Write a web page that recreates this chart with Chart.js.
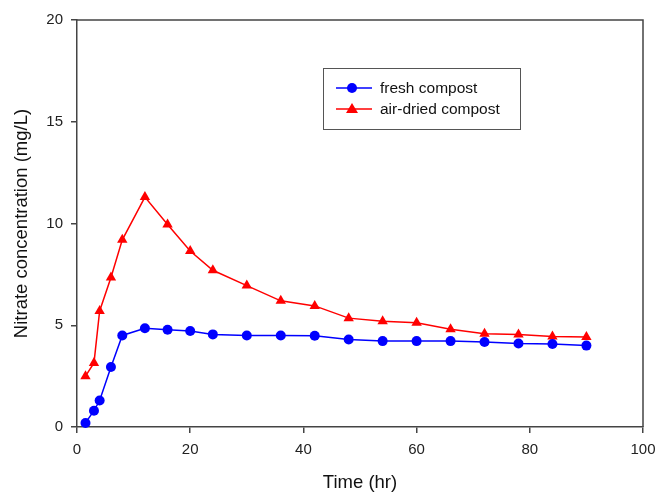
<!DOCTYPE html>
<html>
<head>
<meta charset="utf-8">
<script src="https://cdn.jsdelivr.net/npm/chart.js@4.4.1/dist/chart.umd.min.js"></script>
<style>
  html, body { margin: 0; padding: 0; background: #fff; }
  #wrap { width: 658px; height: 492px; }
</style>
</head>
<body>
<div id="wrap"><canvas id="chart" width="658" height="492"></canvas></div>
<script>
// time (hr)
const hours = [1.5, 3, 4, 6, 8, 12, 16, 20, 24, 30, 36, 42, 48, 54, 60, 66, 72, 78, 84, 90];
const freshCompost = [0.2, 0.8, 1.3, 2.95, 4.5, 4.85, 4.78, 4.72, 4.55, 4.5, 4.5, 4.48, 4.3, 4.22, 4.22, 4.22, 4.18, 4.1, 4.08, 4.0];
const airDriedCompost = [2.5, 3.15, 5.7, 7.35, 9.2, 11.3, 9.95, 8.65, 7.7, 6.95, 6.2, 5.95, 5.35, 5.2, 5.12, 4.8, 4.58, 4.55, 4.45, 4.42];
const xTicks = [0, 20, 40, 60, 80, 100];
const yTicks = [0, 5, 10, 15, 20];

const axisColor = '#444';
const font = "Arial, 'Liberation Sans', sans-serif";

function toPoints(ys) {
    return hours.map((h, i) => ({ x: h, y: ys[i] }));
}

// frame round the plot + legend box inside it
const framePlugin = {
    id: 'frame',
    afterDraw(chart) {
        const { ctx, chartArea: a } = chart;
        ctx.save();
        ctx.strokeStyle = axisColor;
        ctx.lineWidth = 1.5;
        ctx.beginPath();
        ctx.moveTo(a.left, a.top);
        ctx.lineTo(a.right, a.top);
        ctx.lineTo(a.right, a.bottom);
        ctx.stroke();

        // legend
        const bx = 323, by = 68, bw = 197, bh = 61;
        ctx.lineWidth = 1;
        ctx.strokeStyle = '#555';
        ctx.strokeRect(bx + 0.5, by + 0.5, bw, bh);
        ctx.font = '15.5px ' + font;
        ctx.textBaseline = 'middle';
        chart.data.datasets.forEach((ds, i) => {
            const y = 88 + i * 21;
            ctx.strokeStyle = ds.borderColor;
            ctx.lineWidth = 1.5;
            ctx.beginPath();
            ctx.moveTo(336, y);
            ctx.lineTo(372, y);
            ctx.stroke();
            ctx.fillStyle = ds.backgroundColor;
            ctx.beginPath();
            if (ds.pointStyle === 'triangle') {
                ctx.moveTo(352, y - 6);
                ctx.lineTo(358, y + 4);
                ctx.lineTo(346, y + 4);
                ctx.closePath();
            } else {
                ctx.arc(352, y, 5, 0, Math.PI * 2);
            }
            ctx.fill();
            ctx.fillStyle = '#111';
            ctx.fillText(ds.label, 380, y + 1);
        });
        ctx.restore();
    }
};

new Chart(document.getElementById('chart'), {
    type: 'line',
    data: {
        datasets: [{
            label: 'fresh compost',
            data: toPoints(freshCompost),
            borderColor: '#0000ff',
            backgroundColor: '#0000ff',
            borderWidth: 1.5,
            pointStyle: 'circle',
            pointRadius: 5,
            pointBorderWidth: 0,
            tension: 0
        }, {
            label: 'air-dried compost',
            data: toPoints(airDriedCompost),
            borderColor: '#ff0000',
            backgroundColor: '#ff0000',
            borderWidth: 1.5,
            pointStyle: 'triangle',
            pointRadius: 6,
            pointBorderWidth: 0,
            tension: 0
        }]
    },
    options: {
        responsive: false,
        animation: false,
        clip: false,
        layout: { padding: { top: 20, right: 15, left: 0, bottom: 0 } },
        plugins: {
            legend: { display: false },
            tooltip: { enabled: false }
        },
        scales: {
            x: {
                type: 'linear',
                min: 0,
                max: 100,
                afterBuildTicks: s => { s.ticks = xTicks.map(v => ({ value: v })); },
                afterFit: s => { s.height = 65; s.paddingRight = 0; s.paddingLeft = 0; },
                grid: { display: true, drawOnChartArea: false, drawTicks: true, tickLength: 6, color: axisColor, lineWidth: 1.5 },
                border: { color: axisColor, width: 1.5 },
                ticks: { color: '#222', font: { family: font, size: 15 }, padding: 8, maxRotation: 0 },
                title: { display: true, text: 'Time (hr)', color: '#111', font: { family: font, size: 18.5 }, padding: { top: 0, bottom: -2 } }
            },
            y: {
                min: 0,
                max: 20,
                afterBuildTicks: s => { s.ticks = yTicks.map(v => ({ value: v })); },
                afterFit: s => { s.width = 77; s.paddingTop = 0; s.paddingBottom = 0; },
                grid: { display: true, drawOnChartArea: false, drawTicks: true, tickLength: 6, color: axisColor, lineWidth: 1.5 },
                border: { color: axisColor, width: 1.5 },
                ticks: { color: '#222', font: { family: font, size: 15 }, padding: 8 },
                title: { display: true, text: 'Nitrate concentration (mg/L)', color: '#111', font: { family: font, size: 18.5 }, padding: { top: 11, bottom: 0 } }
            }
        }
    },
    plugins: [framePlugin]
});
</script>
</body>
</html>
